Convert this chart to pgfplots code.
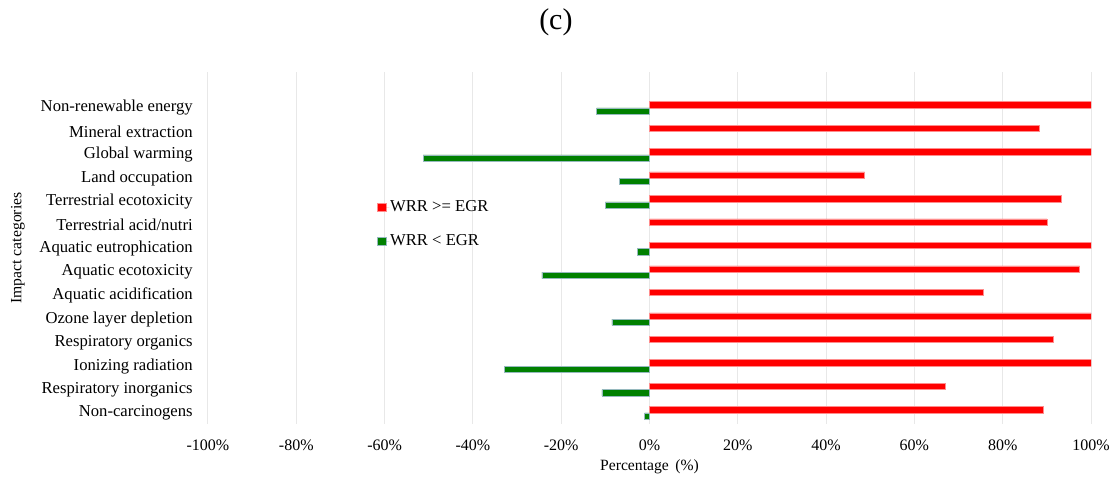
\documentclass[border=0pt]{standalone}
\usepackage{pgfplots}
\pgfplotsset{compat=1.18}
\usepackage{pgfplotstable}
\usepackage{fontspec}
\setmainfont{Liberation Serif}
\definecolor{wrrred}{RGB}{255,0,0}
\definecolor{wrrgreen}{RGB}{0,128,0}
\definecolor{gridgray}{RGB}{232,232,232}

% y index: 0 = Non-carcinogens (bottom) ... 13 = Non-renewable energy (top)
\pgfplotstableread{
y val
0 89.1
1 67.0
2 100
3 91.4
4 100
5 75.5
6 97.4
7 100
8 90.0
9 93.2
10 48.7
11 100
12 88.3
13 100
}\redtab
\pgfplotstableread{
y val
0 -1.1
1 -10.8
2 -32.9
4 -8.5
6 -24.4
7 -2.7
9 -10.0
10 -6.9
11 -51.3
13 -12.0
}\greentab

\begin{document}
\begin{tikzpicture}
\useasboundingbox (0,0) rectangle (670.8pt,-289.2pt);
\begin{axis}[
  at={(124.8pt,-43.2pt)}, anchor=north west,
  scale only axis,
  width=529.8pt, height=211.2pt,
  xmin=-100, xmax=100,
  ymin=-0.47, ymax=14.53,
  xbar, bar width=0.27,
  axis line style={draw=none},
  major tick length=0pt,
  xtick={-100,-80,-60,-40,-20,0,20,40,60,80,100},
  xticklabels={-100\%,-80\%,-60\%,-40\%,-20\%,0\%,20\%,40\%,60\%,80\%,100\%},
  ytick={0,1,2,3,4,5,6,7,8,9,10,11,12,13},
  yticklabels={Non-carcinogens,Respiratory inorganics,Ionizing radiation,Respiratory organics,Ozone layer depletion,Aquatic acidification,Aquatic ecotoxicity,Aquatic eutrophication,Terrestrial acid/nutri,Terrestrial ecotoxicity,Land occupation,Global warming,Mineral extraction,Non-renewable energy},
  xmajorgrids, ymajorgrids=false,
  grid style={draw=gridgray, line width=0.6pt},
  yticklabel style={font=\fontsize{10}{12}\selectfont, anchor=east, inner sep=0pt, xshift=-9pt},
  xticklabel style={font=\fontsize{9.6}{11}\selectfont, anchor=base, inner sep=0pt, yshift=-15.9pt},
  xlabel={Percentage\ \,(\%)},
  xlabel style={font=\fontsize{9.4}{11}\selectfont, at={(axis description cs:0.5,-0.1335)}, anchor=base, inner sep=0pt},
  ylabel={Impact categories},
  ylabel style={font=\fontsize{9.4}{11}\selectfont, at={(axis description cs:-0.2152,0.5)}, anchor=center, inner sep=0pt},
  title={(c)},
  every axis title/.style={font=\fontsize{18}{20}\selectfont, at={(axis description cs:0.394,1.142)}, anchor=center, inner sep=0pt},
  legend style={at={(axis description cs:0.1914,0.5675)}, anchor=west, draw=none, fill=none,
    font=\fontsize{10}{12}\selectfont, inner xsep=0pt, inner ysep=0pt, row sep=11.4pt,
    nodes={inner sep=0.5pt}},
  legend cell align=left,
  legend image code/.code={\fill[#1] (0pt,-2.6pt) rectangle (5.2pt,2.6pt);\draw[draw=none] (0pt,0pt) -- (7pt,0pt);},
]
\addplot[fill=wrrred, draw=red!45, line width=0.3pt, bar shift=0.135] table[x=val,y=y]{\redtab};
\addlegendentry{WRR >= EGR}
\addplot[fill=wrrgreen, draw={rgb,255:red,150;green,185;blue,190}, line width=0.3pt, bar shift=-0.135] table[x=val,y=y]{\greentab};
\addlegendentry{WRR < EGR}
\end{axis}
\end{tikzpicture}
\end{document}
